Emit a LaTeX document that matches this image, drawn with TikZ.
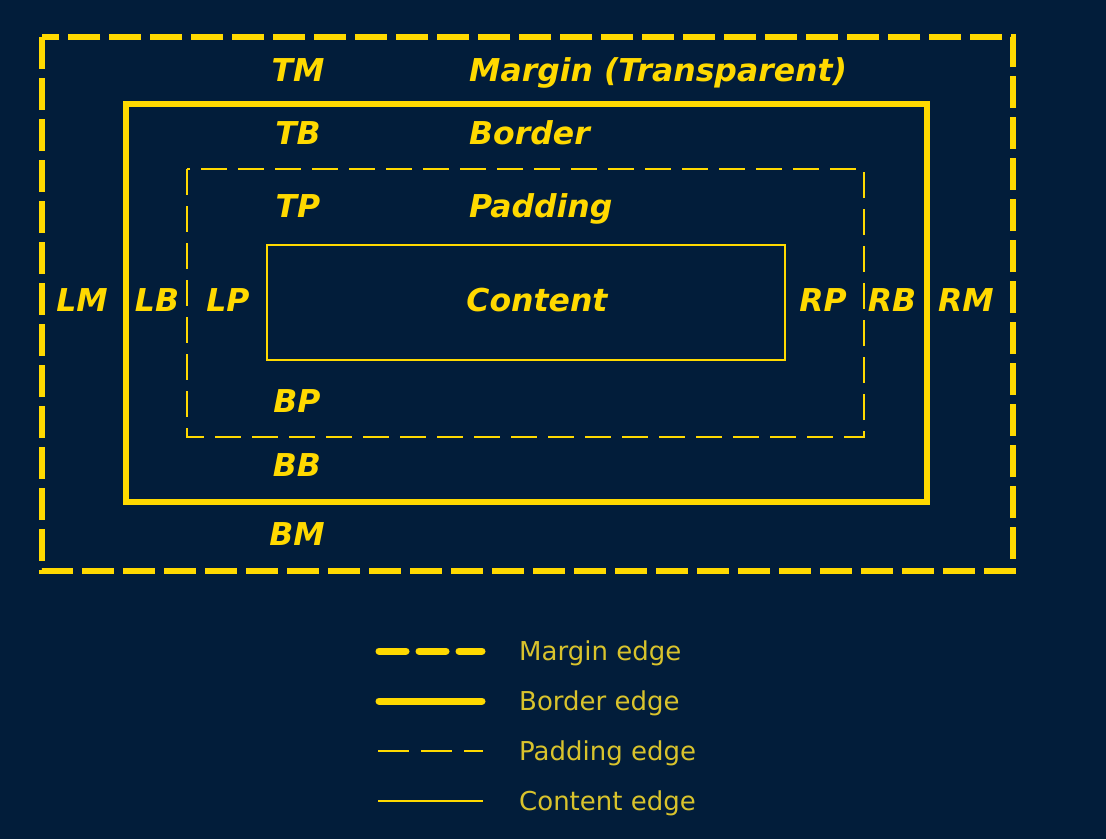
\documentclass[tikz,border=0pt]{standalone}
\usepackage{fontspec}
\setmainfont{DejaVu Sans}
\definecolor{bgnavy}{HTML}{021D3A}
\definecolor{boxyellow}{HTML}{FFD900}
\definecolor{legyellow}{HTML}{D9C32C}
\tikzset{
  marginedge/.style={draw=boxyellow, line width=6.5pt, dash pattern=on 32pt off 9pt},
  borderedge/.style={draw=boxyellow, line width=6pt},
  paddingedge/.style={draw=boxyellow, line width=2pt, dash pattern=on 26pt off 11pt},
  contentedge/.style={draw=boxyellow, line width=2pt},
  lbl/.style={text=boxyellow, font=\fontsize{31.5}{36}\selectfont\bfseries\itshape, inner sep=0pt, text height=23pt, text depth=0pt},
  leglbl/.style={text=legyellow, font=\fontsize{26}{30}\selectfont, anchor=west, inner sep=0pt, text height=19pt, text depth=0pt},
}
\begin{document}
\begin{tikzpicture}[x=1pt,y=-1pt]
\fill[bgnavy] (0,0) rectangle (1106,839);
\useasboundingbox (0,0) rectangle (1106,839);
% boxes
\draw[marginedge] (42,37) rectangle (1013,571);
\draw[borderedge] (126,104) rectangle (927,502);
\draw[paddingedge] (187,169) rectangle (864,437);
\draw[contentedge] (267,245) rectangle (785,360);
% labels
\node[lbl] (tm) at (298,70) {TM};
\node[lbl, anchor=west] (mt) at (469,70) {Margin (Transparent)};
\node[lbl] (tb) at (298,133) {TB};
\node[lbl, anchor=west] (bt) at (469,133) {Border};
\node[lbl] (tp) at (298,206) {TP};
\node[lbl, anchor=west] (pt) at (469,206) {Padding};
\node[lbl] (ct) at (537,300) {Content};
\node[lbl] (lm) at (82,300) {LM};
\node[lbl] (lb) at (157,300) {LB};
\node[lbl] (lp) at (228,300) {LP};
\node[lbl] (rp) at (823,300) {RP};
\node[lbl] (rb) at (892,300) {RB};
\node[lbl] (rm) at (966,300) {RM};
\node[lbl] (bp) at (297,401) {BP};
\node[lbl] (bb) at (297,465) {BB};
\node[lbl] (bm) at (297,534) {BM};
% legend
\coordinate (l1a) at (379,651); \coordinate (l1b) at (482,651);
\coordinate (l2a) at (379,701); \coordinate (l2b) at (482,701);
\coordinate (l3a) at (378,751); \coordinate (l3b) at (483,751);
\coordinate (l4a) at (378,801); \coordinate (l4b) at (483,801);
\draw[marginedge, line cap=round, line width=7pt, dash pattern=on 27pt off 13pt] (l1a) -- (l1b);
\draw[borderedge, line cap=round, line width=7pt] (l2a) -- (l2b);
\draw[paddingedge, line width=2.8pt, dash pattern=on 31pt off 12pt] (l3a) -- (l3b);
\draw[contentedge, line width=2.8pt] (l4a) -- (l4b);
\node[leglbl] (lg1) at (519,651) {Margin edge};
\node[leglbl] (lg2) at (519,701) {Border edge};
\node[leglbl] (lg3) at (519,751) {Padding edge};
\node[leglbl] (lg4) at (519,801) {Content edge};
\end{tikzpicture}
\end{document}
